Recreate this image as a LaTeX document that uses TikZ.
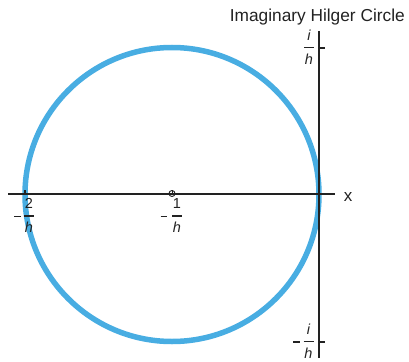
\documentclass[tikz,border=0pt]{standalone}
\usepackage{fontspec}
\setmainfont{Liberation Sans}
\definecolor{hblue}{RGB}{72,173,226}
\definecolor{axisc}{RGB}{34,34,34}
\newcommand\hfrac[4]{%
  \node[lbl] (#1n) at (#2,#3-7.5) {#4};
  \node[lbl] (#1d) at (#2,#3+16.8) {\itshape h};
  \draw[fbar] (#2-5,#3) -- (#2+5,#3);}
\begin{document}
\begin{tikzpicture}[x=1pt,y=-1pt,
  ax/.style={draw=axisc,line width=2pt},
  lbl/.style={inner sep=0pt,anchor=base,text=axisc,font=\fontsize{14.5}{16}\selectfont},
  fbar/.style={draw=axisc,line width=1.1pt},
  minus/.style={draw=axisc,line width=1.6pt}]
\useasboundingbox (0,0) rectangle (409,361);
% circle
\draw[hblue,line width=5.5pt] (172,194.5) circle[radius=147];
% axes
\coordinate (xl) at (8,194.3);
\coordinate (xr) at (335,194.3);
\coordinate (yt) at (319,31);
\coordinate (yb) at (319,358);
\draw[ax] (xl) -- (xr);
\draw[ax] (yt) -- (yb);
% ticks
\coordinate (t1) at (319,47.7);
\coordinate (t1e) at (324.5,47.7);
\coordinate (t2) at (319,341.7);
\coordinate (t2e) at (324.5,341.7);
\coordinate (t3) at (25,194.3);
\coordinate (t3e) at (25,189.5);
\draw[ax] (t1) -- (t1e);
\draw[ax] (t2) -- (t2e);
\draw[ax] (t3) -- (t3e);
% centre marker
\node[circle,draw=axisc,line width=0.9pt,inner sep=0pt,minimum size=6pt] (c) at (172,193.5) {};
\draw[axisc,line width=0.9pt] (c.center) -- (c.north);
% labels
\node[anchor=base east,inner sep=0pt,text=axisc,font=\fontsize{17.3}{20}\selectfont] (title) at (405,22) {Imaginary Hilger Circle};
\node[anchor=base,inner sep=0pt,text=axisc,font=\fontsize{17}{20}\selectfont] (xlab) at (348,201.7) {x};
% fractions
\hfrac{ih}{309}{47.7}{\itshape i}
\hfrac{mih}{308.5}{341.7}{\itshape i}
\draw[minus] (293,341.7) -- (300,341.7);
\hfrac{mtwo}{29}{216}{2}
\draw[minus] (14,216.5) -- (21,216.5);
\hfrac{mone}{177}{216}{1}
\draw[minus] (160.5,216.5) -- (167,216.5);
\end{tikzpicture}
\end{document}
